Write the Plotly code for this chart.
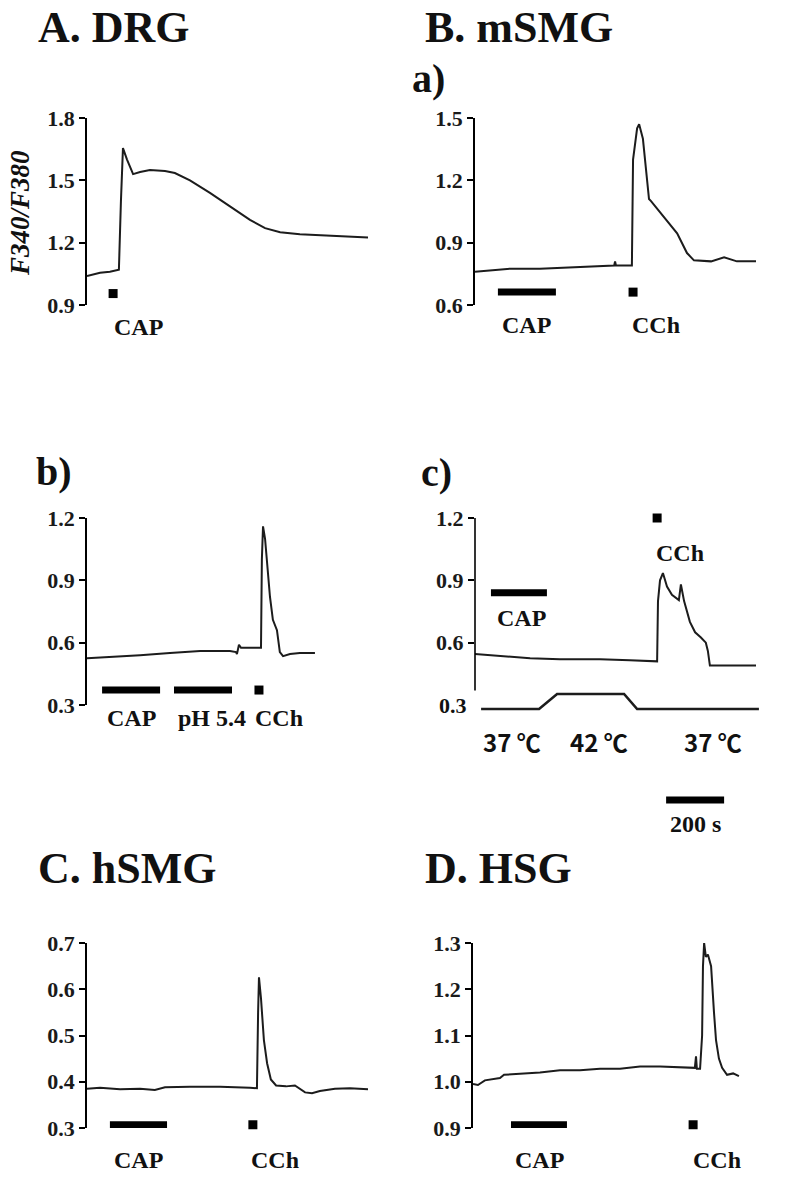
import plotly.graph_objects as go

W, H = 788, 1177

# ---------------- data (time in s, ratio F340/F380) ----------------
A_t = [0, 45, 79, 110, 117, 124, 138, 150, 159, 183, 217, 269, 303, 355, 424, 493, 562, 614, 666, 734, 838, 969]
A_v = [1.04, 1.055, 1.06, 1.07, 1.40, 1.655, 1.60, 1.56, 1.53, 1.54, 1.55, 1.545, 1.535, 1.50, 1.44, 1.375, 1.31, 1.27, 1.25, 1.24, 1.232, 1.225]

Ba_t = [0, 52, 121, 224, 328, 431, 480, 483, 486, 541, 545, 559, 566, 579, 600, 607, 641, 697, 731, 755, 814, 859, 903, 969]
Ba_v = [0.76, 0.765, 0.775, 0.775, 0.78, 0.785, 0.79, 0.81, 0.79, 0.79, 1.30, 1.45, 1.47, 1.40, 1.11, 1.10, 1.04, 0.945, 0.85, 0.815, 0.81, 0.83, 0.81, 0.81]

Bb_t = [0, 79, 183, 286, 390, 493, 514, 517, 524, 531, 562, 600, 603, 607, 614, 631, 641, 655, 665, 676, 700, 734, 786]
Bb_v = [0.525, 0.53, 0.54, 0.55, 0.56, 0.56, 0.555, 0.545, 0.59, 0.575, 0.575, 0.575, 1.0, 1.16, 1.10, 0.82, 0.71, 0.66, 0.555, 0.535, 0.545, 0.55, 0.55]

Bc_t = [0, 86, 190, 293, 431, 534, 628, 631, 638, 648, 662, 679, 703, 710, 721, 741, 759, 779, 796, 803, 810, 845, 969]
Bc_v = [0.545, 0.535, 0.525, 0.52, 0.52, 0.515, 0.51, 0.80, 0.90, 0.935, 0.87, 0.83, 0.805, 0.88, 0.80, 0.70, 0.65, 0.625, 0.60, 0.56, 0.49, 0.49, 0.49]

temp_t = [21, 221, 283, 514, 559, 979]
temp_c = [37, 37, 42, 42, 37, 37]

C_t = [0, 45, 114, 183, 234, 269, 355, 459, 562, 586, 590, 593, 600, 610, 621, 634, 652, 686, 717, 734, 752, 776, 803, 855, 907, 969]
C_v = [0.385, 0.387, 0.384, 0.385, 0.382, 0.388, 0.389, 0.389, 0.387, 0.386, 0.55, 0.626, 0.58, 0.49, 0.44, 0.405, 0.392, 0.39, 0.392, 0.385, 0.377, 0.375, 0.38, 0.385, 0.386, 0.384]

D_t = [0, 17, 41, 93, 107, 162, 231, 300, 369, 438, 507, 576, 645, 765, 769, 772, 783, 790, 793, 797, 803, 810, 821, 831, 838, 848, 859, 876, 897, 917]
D_v = [0.995, 0.993, 1.003, 1.008, 1.015, 1.017, 1.02, 1.025, 1.025, 1.028, 1.028, 1.033, 1.033, 1.03, 1.055, 1.028, 1.028, 1.10, 1.25, 1.30, 1.27, 1.275, 1.25, 1.15, 1.09, 1.05, 1.03, 1.015, 1.018, 1.012]

# stimulus bars: (label, start, end, level) ; squares: (label, centre, level)
A_bars = []
A_squares = [("CAP", 90, 0.955)]
Ba_bars = [("CAP", 79, 279, 0.662)]
Ba_squares = [("CCh", 545, 0.662)]
Bb_bars = [("CAP", 52, 252, 0.372), ("pH 5.4", 300, 500, 0.372)]
Bb_squares = [("CCh", 593, 0.372)]
Bc_bars = [("CAP", 55, 248, 0.84)]
Bc_squares = [("CCh", 628, 1.2)]
C_bars = [("CAP", 79, 276, 0.307)]
C_squares = [("CCh", 572, 0.307)]
D_bars = [("CAP", 131, 324, 0.907)]
D_squares = [("CCh", 759, 0.907)]

# stimulus label centres (time)
A_labels = [("CAP", 176)]
Ba_labels = [("CAP", 179), ("CCh", 624)]
Bb_labels = [("CAP", 152), ("pH 5.4", 431), ("CCh", 662)]
C_labels = [("CAP", 176), ("CCh", 648)]
D_labels = [("CAP", 231), ("CCh", 841)]
temp_labels = [("37 ℃", 128), ("42 ℃", 428), ("37 ℃", 821)]
scale_len = 200

# ---------------- helpers ----------------
def px_x(p):
    return p / W

def px_y(p):
    return 1 - p / H

SERIF = "Liberation Serif, Times New Roman, serif"
LINE = "#1c1c1c"

fig = go.Figure()

panels = [
    # name, t, v, xdomain px, ydomain px (top,bottom), yrange, tickvals
    ("1", A_t, A_v, (87, 377), (118, 305), (0.9, 1.8), [0.9, 1.2, 1.5, 1.8]),
    ("2", Ba_t, Ba_v, (475, 765), (118, 305), (0.6, 1.5), [0.6, 0.9, 1.2, 1.5]),
    ("3", Bb_t, Bb_v, (87, 377), (518, 705), (0.3, 1.2), [0.3, 0.6, 0.9, 1.2]),
    ("4", Bc_t, Bc_v, (475, 765), (518, 712), (1.2 - 194 * 0.9 / 187, 1.2), [0.6, 0.9, 1.2]),
    ("5", C_t, C_v, (87, 377), (943, 1128), (0.3, 0.7), [0.3, 0.4, 0.5, 0.6, 0.7]),
    ("6", D_t, D_v, (473, 763), (943, 1128), (0.9, 1.3), [0.9, 1.0, 1.1, 1.2, 1.3]),
]

layout = dict(
    width=W, height=H,
    margin=dict(l=0, r=0, t=0, b=0, pad=0, autoexpand=False),
    paper_bgcolor="white", plot_bgcolor="rgba(0,0,0,0)",
    showlegend=False,
)

for name, t, v, xd, yd, yr, tv in panels:
    xa = "xaxis" if name == "1" else "xaxis" + name
    ya = "yaxis" if name == "1" else "yaxis" + name
    xr = "x" if name == "1" else "x" + name
    yrf = "y" if name == "1" else "y" + name
    fig.add_trace(go.Scatter(x=t, y=v, mode="lines", xaxis=xr, yaxis=yrf,
                             line=dict(color=LINE, width=2), hoverinfo="skip"))
    layout[xa] = dict(domain=[px_x(xd[0]), px_x(xd[1])], range=[0, 1000], anchor=yrf,
                      visible=False, automargin=False)
    layout[ya] = dict(domain=[px_y(yd[1]), px_y(yd[0])], range=list(yr), anchor=xr,
                      automargin=False,
                      showline=(name != "4"), linecolor="black", linewidth=1.6,
                      ticks="outside", ticklen=6, tickwidth=1.6, tickcolor="black",
                      tickvals=tv, tickformat=".1f", showgrid=False, zeroline=False,
                      tickfont=dict(family=SERIF, size=22, color="#1a1a1a", weight="bold"))

# temperature trace on hidden overlay axis of panel c
fig.add_trace(go.Scatter(x=temp_t, y=temp_c, mode="lines", xaxis="x4", yaxis="y7",
                         line=dict(color=LINE, width=2.6), hoverinfo="skip"))
layout["yaxis7"] = dict(overlaying="y4", anchor="x4", range=[36.0, 37 + 191 / 3.0],
                        visible=False, automargin=False)

shapes = []
# axis line of panel c (stops above the temperature trace)
shapes.append(dict(type="line", xref="x4 domain", yref="y4", x0=0, x1=0, y0=0.37, y1=1.2,
                   line=dict(color="black", width=1.6)))

def add_stim(ax, bars, squares):
    xr = "x" if ax == "1" else "x" + ax
    yrf = "y" if ax == "1" else "y" + ax
    for _, s, e, lvl in bars:
        shapes.append(dict(type="rect", xref=xr, yref=yrf, x0=s, x1=e,
                           ysizemode="pixel", yanchor=lvl, y0=-3.5, y1=3.5,
                           fillcolor="black", line=dict(width=0)))
    if squares:
        fig.add_trace(go.Scatter(x=[c for _, c, _ in squares], y=[l for _, _, l in squares],
                                 mode="markers", xaxis=xr, yaxis=yrf, cliponaxis=False,
                                 marker=dict(symbol="square", size=9, color="black",
                                             line=dict(width=0)),
                                 hoverinfo="skip"))

add_stim("1", A_bars, A_squares)
add_stim("2", Ba_bars, Ba_squares)
add_stim("3", Bb_bars, Bb_squares)
add_stim("4", Bc_bars, Bc_squares)
add_stim("5", C_bars, C_squares)
add_stim("6", D_bars, D_squares)

# 200 s scale bar
shapes.append(dict(type="rect", xref="x4", yref="paper", x0=659, x1=659 + scale_len,
                   ysizemode="pixel", yanchor=px_y(800), y0=-3.5, y1=3.5,
                   fillcolor="black", line=dict(width=0)))
layout["shapes"] = shapes

ann = []
def label(text, xref, x, ypx, size=24, family=SERIF, weight="bold", style="normal",
          xanchor="center", angle=0):
    ann.append(dict(text=text, xref=xref, yref="paper", x=x, y=px_y(ypx),
                    xanchor=xanchor, yanchor="middle", showarrow=False, textangle=angle,
                    font=dict(family=family, size=size, color="#111", weight=weight,
                              style=style)))

# titles
label("A. DRG", "paper", px_x(36), 27, size=44, xanchor="left")
label("B. mSMG", "paper", px_x(423), 27, size=44, xanchor="left")
label("a)", "paper", px_x(410), 78, size=40, xanchor="left")
label("b)", "paper", px_x(34), 471, size=40, xanchor="left")
label("c)", "paper", px_x(419), 473, size=40, xanchor="left")
label("C. hSMG", "paper", px_x(36), 868, size=44, xanchor="left")
label("D. HSG", "paper", px_x(423), 868, size=44, xanchor="left")
label("F340/F380", "paper", px_x(20), 213, size=27, style="italic", angle=-90)

for txt, t in A_labels:
    label(txt, "x", t, 327)
for txt, t in Ba_labels:
    label(txt, "x2", t, 325)
for txt, t in Bb_labels:
    label(txt, "x3", t, 718)
label("CAP", "x4", 159, 618)
label("CCh", "x4", 707, 553)
for txt, t in temp_labels:
    label(txt, "x4", t, 741, size=24, family="Noto Sans CJK SC, DejaVu Sans, sans-serif",
          weight="bold")
label("200 s", "x4", 659 + scale_len / 2, 824)
for txt, t in C_labels:
    label(txt, "x5", t, 1160)
for txt, t in D_labels:
    label(txt, "x6", t, 1160)
# bottom tick label of panel c (no tick mark in the original)
label("0.3", "paper", px_x(469), 705, size=22, xanchor="right")

layout["annotations"] = ann
fig.update_layout(**layout)
fig.write_html("out.html", config={"displayModeBar": False},
               post_script="document.body.style.margin='0';document.body.style.padding='0';")
